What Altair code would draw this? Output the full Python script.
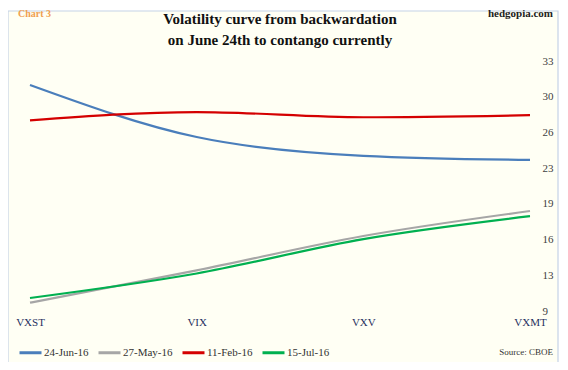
import altair as alt
import pandas as pd

categories = ["VXST", "VIX", "VXV", "VXMT"]
series_names = ["24-Jun-16", "27-May-16", "11-Feb-16", "15-Jul-16"]
jun24 = [30.9, 25.9, 24.1, 23.7]
may27 = [10.0, 13.1, 16.4, 18.8]
feb11 = [27.5, 28.3, 27.8, 28.0]
jul15 = [10.45, 12.8, 16.1, 18.3]
colors = ["#4a7ebb", "#a6a6a6", "#d40000", "#00b050"]
y_ticks = [9.2, 12.63, 16.06, 19.49, 22.91, 26.34, 29.77, 33.2]

rows = []
for name, vals in zip(series_names, [jun24, may27, feb11, jul15]):
    for c, v in zip(categories, vals):
        rows.append({"cat": c, "series": name, "value": v})
df = pd.DataFrame(rows)

serif = "Liberation Serif"

lines = alt.Chart(df).mark_line(interpolate="monotone", strokeWidth=2.2).encode(
    x=alt.X("cat:N", sort=categories, title=None,
            scale=alt.Scale(type="point", padding=0),
            axis=alt.Axis(labelAngle=0, domain=False, ticks=False, labelFont=serif,
                          labelFontSize=11, labelColor="#1f2f5f", labelPadding=5,
                          labelAlign="center", zindex=2)),
    y=alt.Y("value:Q", title=None,
            scale=alt.Scale(domain=[9.2, 33.2], nice=False, zero=False),
            axis=alt.Axis(orient="right", values=y_ticks, domain=False, ticks=False,
                          grid=False, labelExpr="format(round(datum.value), 'd')",
                          labelFont=serif, labelFontSize=11, labelColor="#404040",
                          labelPadding=12, zindex=2)),
    color=alt.Color("series:N", sort=series_names,
                    scale=alt.Scale(domain=series_names, range=colors),
                    legend=alt.Legend(title=None, orient="none", direction="horizontal",
                                      legendX=-12, legendY=279, symbolType="stroke",
                                      symbolSize=484, symbolStrokeWidth=3,
                                      labelFont=serif, labelFontSize=11,
                                      labelColor="#333333", columnPadding=3,
                                      labelOffset=1, zindex=2)),
)

frame = alt.Chart(pd.DataFrame({"a": [0]})).mark_rect(
    fill="#fffff4", stroke="#c5d3e6", strokeWidth=1.2
).encode(x=alt.value(-22), x2=alt.value(528), y=alt.value(-50), y2=alt.value(302))

def txt(s, x, y, size, color, weight="normal", align="left"):
    return alt.Chart(pd.DataFrame({"t": [s]})).mark_text(
        font=serif, fontSize=size, color=color, fontWeight=weight, align=align,
        baseline="middle"
    ).encode(text="t:N", x=alt.value(x), y=alt.value(y))

title1 = txt("Volatility curve from backwardation", 250, -42, 15, "#111111", "bold", "center")
title2 = txt("on June 24th to contango currently", 250, -21, 15, "#111111", "bold", "center")
chart3 = txt("Chart 3", -12, -47, 10, "#f0a050", "bold")
hedg = txt("hedgopia.com", 523, -47, 11, "#222222", "bold", "right")
source = txt("Source: CBOE", 523, 291, 9, "#333333", "normal", "right")

chart = alt.layer(frame, lines, title1, title2, chart3, hedg, source).properties(
    width=500, height=250,
    autosize=alt.AutoSizeParams(type="none"),
    padding={"left": 22, "top": 53, "right": 30, "bottom": 51},
    background="white",
).configure_view(stroke=None)

chart.save("out.html", embed_options={"renderer": "svg", "actions": False})
